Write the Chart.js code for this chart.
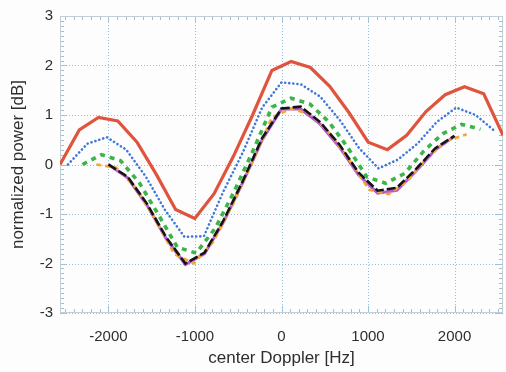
<!DOCTYPE html>
<html>
<head>
<meta charset="utf-8">
<script src="https://cdn.jsdelivr.net/npm/chart.js@4.4.1/dist/chart.umd.min.js"></script>
<style>
  html, body { margin: 0; padding: 0; background: #fdfdfd; }
  canvas { display: block; }
</style>
</head>
<body>
<canvas id="grafico" width="506" height="372"></canvas>
<script>
// === DADOS ===
const xTicks = [-2000, -1000, 0, 1000, 2000];
const yTicks = [-3, -2, -1, 0, 1, 2, 3];

const xRed = [-2560, -2337, -2115, -1892, -1670, -1447, -1224, -1002, -779, -557, -334, -111, 111, 334, 557, 779, 1002, 1224, 1447, 1670, 1892, 2115, 2337, 2560];
const yRed = [0, 0.70, 0.95, 0.88, 0.45, -0.20, -0.91, -1.09, -0.59, 0.16, 1.00, 1.90, 2.08, 1.96, 1.58, 1.05, 0.45, 0.30, 0.59, 1.07, 1.41, 1.57, 1.43, 0.59];

const xBlue = [-2468, -2244, -2019, -1795, -1570, -1346, -1122, -897, -673, -448, -224, 0, 224, 448, 673, 897, 1122, 1346, 1570, 1795, 2019, 2244, 2468];
const yBlue = [0, 0.42, 0.55, 0.30, -0.24, -0.92, -1.46, -1.45, -0.55, 0.24, 1.15, 1.66, 1.62, 1.37, 0.90, 0.33, -0.08, 0.10, 0.42, 0.86, 1.15, 1.00, 0.67];

const xGreen = [-2300, -2081, -1862, -1643, -1424, -1205, -986, -767, -548, -329, -110, 110, 329, 548, 767, 986, 1205, 1424, 1643, 1862, 2081, 2300];
const yGreen = [0, 0.20, 0.08, -0.37, -1.01, -1.67, -1.79, -1.29, -0.55, 0.28, 1.16, 1.34, 1.22, 0.86, 0.34, -0.25, -0.38, -0.18, 0.27, 0.62, 0.81, 0.71];

const xOrange = [-2140, -1915, -1689, -1464, -1239, -1013, -788, -563, -337, -112, 112, 337, 563, 788, 1013, 1239, 1464, 1689, 1915, 2140];
const yOrange = [0, -0.06, -0.46, -1.10, -1.81, -2.00, -1.56, -0.81, 0.04, 0.95, 1.13, 1.01, 0.62, 0.08, -0.51, -0.60, -0.32, 0.15, 0.48, 0.61];

const xBlack = [-2000, -1778, -1556, -1333, -1111, -889, -667, -444, -222, 0, 222, 444, 667, 889, 1111, 1333, 1556, 1778, 2000];
const yBlack = [0, -0.25, -0.79, -1.47, -2.00, -1.78, -1.12, -0.32, 0.54, 1.13, 1.17, 0.86, 0.41, -0.16, -0.53, -0.47, -0.09, 0.33, 0.58];
const yMagenta = [0, -0.27, -0.82, -1.50, -2.02, -1.80, -1.15, -0.35, 0.50, 1.12, 1.12, 0.82, 0.36, -0.21, -0.58, -0.52, -0.13, 0.30, 0.57];

const pares = (xs, ys) => xs.map((x, i) => ({ x: x, y: ys[i] }));

const FONTE = "'Liberation Sans', Arial, Helvetica, sans-serif";
const COR_TEXTO = "#2e2e2e";

// === grade pontilhada, moldura e marcas menores ===
const moldura = {
  id: "moldura",
  beforeDatasetsDraw(chart) {
    const { ctx, chartArea: a, scales } = chart;
    ctx.save();
    // grade
    ctx.strokeStyle = "#93bfd9";
    ctx.lineWidth = 1;
    ctx.setLineDash([1, 2]);
    ctx.beginPath();
    xTicks.forEach((v) => {
      const x = Math.round(scales.x.getPixelForValue(v)) + 0.5;
      ctx.moveTo(x, a.top); ctx.lineTo(x, a.bottom);
    });
    yTicks.forEach((v) => {
      const y = Math.round(scales.y.getPixelForValue(v)) + 0.5;
      ctx.moveTo(a.left, y); ctx.lineTo(a.right, y);
    });
    ctx.stroke();
    ctx.setLineDash([]);
    // marcas menores
    ctx.strokeStyle = "#9dc1d6";
    ctx.beginPath();
    for (let v = -30; v <= 30; v++) {
      const y = Math.round(scales.y.getPixelForValue(v / 10)) + 0.5;
      const len = v % 10 === 0 ? 7 : 4;
      ctx.moveTo(a.left, y); ctx.lineTo(a.left + len, y);
      ctx.moveTo(a.right, y); ctx.lineTo(a.right - len, y);
    }
    for (let v = -25; v <= 25; v++) {
      const x = Math.round(scales.x.getPixelForValue(v * 100)) + 0.5;
      const len = v % 10 === 0 ? 7 : 4;
      ctx.moveTo(x, a.top); ctx.lineTo(x, a.top + len);
      ctx.moveTo(x, a.bottom); ctx.lineTo(x, a.bottom - len);
    }
    ctx.stroke();
    ctx.strokeStyle = "#c3ced6";
    ctx.strokeRect(a.left + 0.5, a.top + 0.5, a.right - a.left - 1, a.bottom - a.top - 1);
    ctx.restore();
  },
};

new Chart(document.getElementById("grafico"), {
  type: "line",
  data: {
    datasets: [
      { data: pares(xRed, yRed), borderColor: "#e0533c", borderWidth: 3.2 },
      { data: pares(xBlue, yBlue), borderColor: "#3f78d8", borderWidth: 2.6, borderDash: [0.1, 4], borderCapStyle: "round" },
      { data: pares(xGreen, yGreen), borderColor: "#3cb548", borderWidth: 3.6, borderDash: [5, 5] },
      { data: pares(xBlack, yBlack), borderColor: "#141414", borderWidth: 2.6, borderDash: [9, 3] },
      { data: pares(xOrange, yOrange), borderColor: "#f2a634", borderWidth: 2.6, borderDash: [5, 4] },
      { data: pares(xBlack, yMagenta), borderColor: "#b45ad2", borderWidth: 3 },
    ],
  },
  options: {
    responsive: false,
    animation: false,
    devicePixelRatio: 1,
    layout: { padding: { left: 0, right: 3, top: 10, bottom: 0 } },
    elements: { point: { radius: 0 }, line: { tension: 0, fill: false } },
    plugins: { legend: { display: false }, tooltip: { enabled: false } },
    scales: {
      x: {
        type: "linear",
        min: -2560,
        max: 2560,
        afterBuildTicks: (s) => { s.ticks = xTicks.map((v) => ({ value: v })); },
        afterFit: (s) => { s.height = 59; },
        ticks: { color: COR_TEXTO, padding: 15, maxRotation: 0, font: { family: FONTE, size: 15 }, callback: (v) => String(v) },
        grid: { display: false, drawTicks: false },
        border: { display: false },
        title: { display: true, text: "center Doppler [Hz]", color: COR_TEXTO, padding: { top: 0, bottom: 3 }, font: { family: FONTE, size: 17 } },
      },
      y: {
        type: "linear",
        min: -3,
        max: 3,
        afterBuildTicks: (s) => { s.ticks = yTicks.map((v) => ({ value: v })); },
        afterFit: (s) => { s.width = 60; },
        ticks: { color: COR_TEXTO, padding: 7, font: { family: FONTE, size: 15 }, callback: (v) => String(v) },
        grid: { display: false, drawTicks: false },
        border: { display: false },
        title: { display: true, text: "normalized power [dB]", color: COR_TEXTO, padding: { top: 8, bottom: 0 }, font: { family: FONTE, size: 17 } },
      },
    },
  },
  plugins: [moldura],
});
</script>
</body>
</html>
